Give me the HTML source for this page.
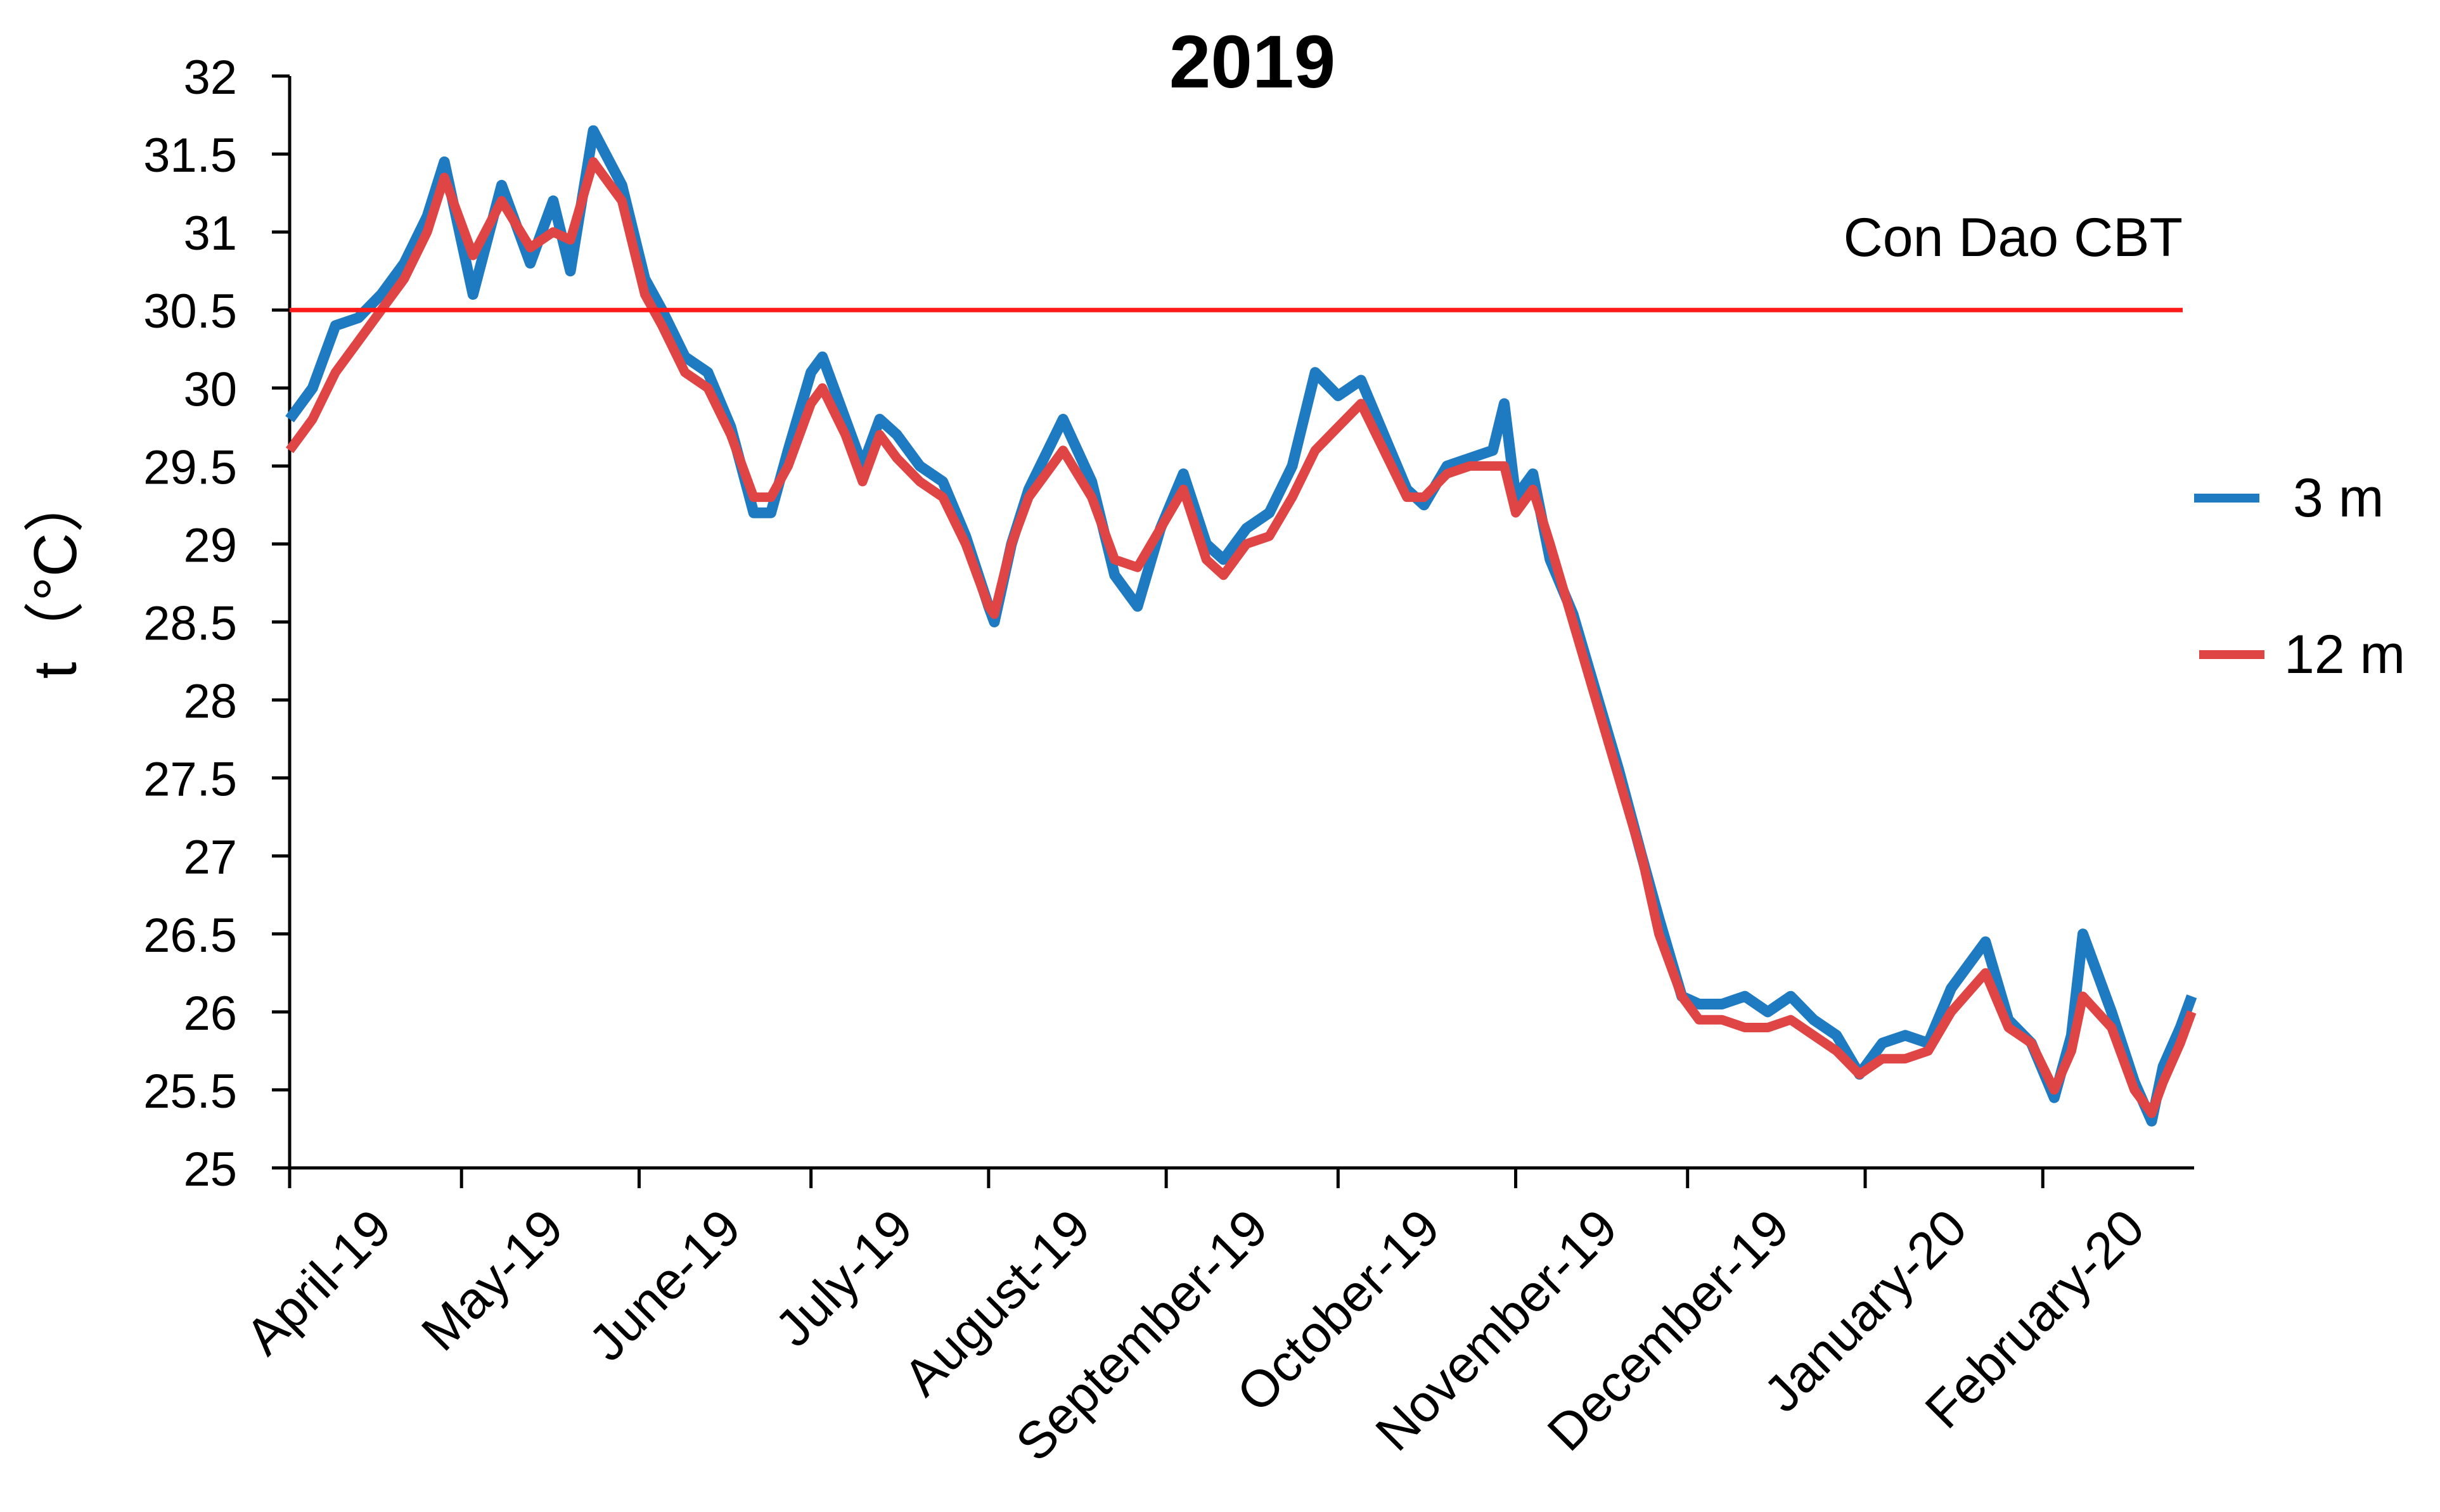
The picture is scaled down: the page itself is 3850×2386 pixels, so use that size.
<!DOCTYPE html>
<html><head><meta charset="utf-8"><style>
html,body{margin:0;padding:0;background:#fff}
svg{display:block}
text{font-family:"Liberation Sans",sans-serif;fill:#000}
</style></head><body>
<svg id="chart" width="3850" height="2386" viewBox="0 0 3850 2386">
<text x="1976" y="138" font-size="118" font-weight="bold" text-anchor="middle">2019</text>
<text transform="translate(120,908) rotate(-90)" font-size="96" text-anchor="middle" style="font-family:'Liberation Sans','Noto Sans CJK SC',sans-serif">t（°C）</text>
<g id="yticks"></g>
<g id="xticks"></g>
<g id="series"></g>
<text x="3444" y="404" font-size="86" text-anchor="end">Con Dao CBT</text>
<g>
<line x1="3462" y1="786" x2="3565" y2="786" stroke="#1f7bc1" stroke-width="14"/>
<text x="3618" y="815" font-size="86">3 m</text>
<line x1="3470" y1="1033" x2="3573" y2="1033" stroke="#e04545" stroke-width="14"/>
<text x="3604" y="1062" font-size="86">12 m</text>
</g>
</svg>
<script>
const yTicks=[25,25.5,26,26.5,27,27.5,28,28.5,29,29.5,30,30.5,31,31.5,32];
const yTickLabels=["25","25.5","26","26.5","27","27.5","28","28.5","29","29.5","30","30.5","31","31.5","32"];
const monthDays=[0,30,61,91,122,153,183,214,244,275,306];
const monthLabels=["April-19","May-19","June-19","July-19","August-19","September-19","October-19","November-19","December-19","January-20","February-20"];
const threshold=30.5;
const days=[0,4,8,12,16,20,24,27,32,37,42,46,49,53,58,62,65,69,73,77,81,84,87,91,93,97,100,103,106,110,114,118,122,123,126,129,135,140,144,148,152,156,160,163,167,171,175,179,183,187,191,195,198,202,206,210,212,214,217,220,224,228,232,236,239,243,246,250,254,258,262,266,270,274,278,282,286,290,296,300,304,308,311,313,318,322,325,327,330,332];
const t3m=[29.8,30.0,30.4,30.45,30.6,30.8,31.1,31.45,30.6,31.3,30.8,31.2,30.75,31.65,31.3,30.7,30.5,30.2,30.1,29.75,29.2,29.2,29.6,30.1,30.2,29.8,29.5,29.8,29.7,29.5,29.4,29.05,28.6,28.5,29.0,29.35,29.8,29.4,28.8,28.6,29.1,29.45,29.0,28.9,29.1,29.2,29.5,30.1,29.95,30.05,29.7,29.35,29.25,29.5,29.55,29.6,29.9,29.3,29.45,28.9,28.55,28.05,27.55,27.0,26.6,26.1,26.05,26.05,26.1,26.0,26.1,25.95,25.85,25.6,25.8,25.85,25.8,26.15,26.45,25.95,25.8,25.45,25.85,26.5,26.0,25.55,25.3,25.65,25.9,26.1];
const t12m=[29.6,29.8,30.1,30.3,30.5,30.7,31.0,31.35,30.85,31.2,30.9,31.0,30.95,31.45,31.2,30.6,30.4,30.1,30.0,29.7,29.3,29.3,29.5,29.9,30.0,29.7,29.4,29.7,29.55,29.4,29.3,29.0,28.6,28.55,29.0,29.3,29.6,29.3,28.9,28.85,29.1,29.35,28.9,28.8,29.0,29.05,29.3,29.6,29.75,29.9,29.6,29.3,29.3,29.45,29.5,29.5,29.5,29.2,29.35,29.0,28.5,28.0,27.5,27.0,26.5,26.1,25.95,25.95,25.9,25.9,25.95,25.85,25.75,25.6,25.7,25.7,25.75,26.0,26.25,25.9,25.8,25.5,25.75,26.1,25.9,25.5,25.35,25.55,25.8,26.0];

const NS="http://www.w3.org/2000/svg";
const X0=457,PXD=9.04,Y25=1843,Y32=120;
const xS=d=>X0+d*PXD;
const yS=v=>Y25-(v-25)*(Y25-Y32)/7;
const XEND=3462;
function mk(tag,attrs,parent){const e=document.createElementNS(NS,tag);for(const k in attrs)e.setAttribute(k,attrs[k]);parent.appendChild(e);return e;}
const yg=document.getElementById('yticks'),xg=document.getElementById('xticks'),sg=document.getElementById('series');
let ax=mk('line',{x1:X0,y1:yS(32),x2:X0,y2:Y25,stroke:'#000','stroke-width':5},yg);


let bx=mk('line',{x1:X0,y1:Y25,x2:XEND,y2:Y25,stroke:'#000','stroke-width':5},xg);


yTicks.forEach((v,i)=>{
  const t=mk('line',{x1:X0-28,y1:yS(v),x2:X0,y2:yS(v),stroke:'#000','stroke-width':5},yg);
  
  
  const l=mk('text',{x:374,y:yS(v)+28,'font-size':76,'text-anchor':'end'},yg);
  
  
  l.textContent=yTickLabels[i];
});
monthDays.forEach((d,i)=>{
  const x=xS(d);
  const t=mk('line',{x1:x,y1:Y25,x2:x,y2:Y25+32,stroke:'#000','stroke-width':5},xg);
  
  
  const l=mk('text',{x:0,y:0,'font-size':82,'text-anchor':'end',transform:`translate(${x+165},${Y25+100}) rotate(-45)`},xg);
  
  
  l.textContent=monthLabels[i];
});
function pathOf(arr){return arr.map((v,i)=>(i?'L':'M')+xS(days[i]).toFixed(1)+','+yS(v).toFixed(1)).join(' ');}
const p3=mk('path',{d:pathOf(t3m),fill:'none',stroke:'#1f7bc1','stroke-width':17,'stroke-linejoin':'round'},sg);


const p12=mk('path',{d:pathOf(t12m),fill:'none',stroke:'#e04545','stroke-width':15,'stroke-linejoin':'round'},sg);


const th=mk('line',{x1:X0,y1:yS(threshold),x2:3444,y2:yS(threshold),stroke:'#ff1a1a','stroke-width':7},sg);


</script>
</body></html>
